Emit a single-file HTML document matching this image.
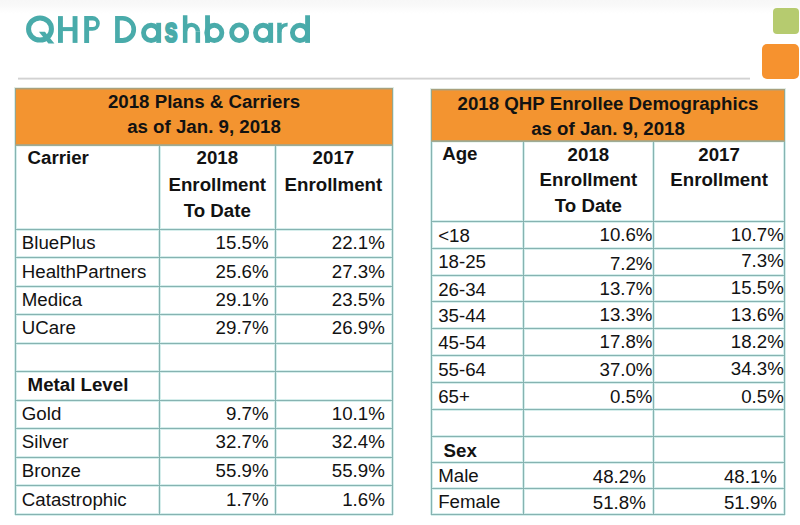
<!DOCTYPE html>
<html><head><meta charset="utf-8"><title>QHP Dashboard</title>
<style>
html,body{margin:0;padding:0;}
body{width:800px;height:525px;position:relative;overflow:hidden;background:#fff;font-family:"Liberation Sans",sans-serif;}
.t{position:absolute;white-space:nowrap;line-height:26px;font-size:18.7px;color:#121212;}
.l{position:absolute;}
.top{position:absolute;left:0;top:0;width:800px;height:14px;background:linear-gradient(#f7f7f7,#f9f9f9 40%,#fdfdfd 75%,#fff);}
.title{position:absolute;left:0;top:0;}
.rule{position:absolute;left:18px;top:78px;width:732px;height:1px;background:#d2d2d2;box-shadow:0 1px 0 #e6e6e6,0 -1px 0 #f0f0f0;}
.sq1{position:absolute;left:773px;top:8px;width:26px;height:26px;border-radius:4px;background:#b6cb6f;}
.sq2{position:absolute;left:762px;top:44px;width:37px;height:35px;border-radius:5px;background:#f6922f;}
</style></head>
<body>
<div class="top"></div>
<svg class="title" width="330" height="60" viewBox="0 0 330 60"><g font-family="Liberation Sans" font-weight="bold" font-size="100" fill="#49abaa" stroke="#49abaa" stroke-linejoin="round"><text transform="translate(164.62,42.15) scale(0.2375,0.3469)" stroke-width="6.32">s</text><ellipse cx="40" cy="29" rx="11.45" ry="11.1" fill="none" stroke-width="5"/><polygon points="38.9,31.8 44.9,31.8 54.4,43.6 48.4,43.6" stroke="none"/><ellipse cx="151.1" cy="32.85" rx="7.58" ry="7.63" fill="none" stroke-width="4.85"/><rect x="156.25" y="22.8" width="4.85" height="20.10" stroke="none"/><ellipse cx="263.1" cy="32.85" rx="7.58" ry="7.63" fill="none" stroke-width="4.85"/><rect x="268.25" y="22.8" width="4.85" height="20.10" stroke="none"/><ellipse cx="239.2" cy="32.75" rx="7.52" ry="7.83" fill="none" stroke-width="4.85"/><rect x="205.1" y="15.25" width="4.85" height="27.65" stroke="none"/><ellipse cx="214.3" cy="32.85" rx="7.58" ry="7.63" fill="none" stroke-width="4.85"/><ellipse cx="300.0" cy="32.85" rx="7.58" ry="7.63" fill="none" stroke-width="4.85"/><rect x="305.15" y="15.25" width="4.85" height="27.65" stroke="none"/><rect x="58" y="16.1" width="4.90" height="26.80" stroke="none"/><rect x="72.6" y="16.1" width="4.90" height="26.80" stroke="none"/><rect x="62" y="27.1" width="11.00" height="4.00" stroke="none"/><path fill-rule="evenodd" stroke="none" d="M84.2,16.1 H92.45 A7.35,7.35 0 0 1 92.45,30.8 H89.1 V42.9 H84.2 Z M89.1,20.4 H92.85 A3.25,3.25 0 0 1 92.85,26.9 H89.1 Z"/><path fill-rule="evenodd" stroke="none" d="M115.1,16.1 H122.7 A13.4,13.4 0 0 1 122.7,42.9 H115.1 Z M119.8,20.5 H122.7 A8.75,8.7 0 0 1 122.7,37.9 H119.8 Z"/><rect x="182.9" y="15.25" width="4.50" height="27.65" stroke="none"/><rect x="195.6" y="31.3" width="4.50" height="11.60" stroke="none"/><path stroke="none" d="M182.9,31.3 A8.6,8.6 0 0 1 200.1,31.3 L195.6,31.3 A4.1,4.3 0 0 0 187.4,31.3 Z"/><rect x="277.2" y="22.75" width="4.50" height="20.15" stroke="none"/><path fill="none" stroke-width="3.9" stroke-linecap="butt" d="M279.5,32 A7.6,7.6 0 0 1 287.6,24.6"/></g></svg>
<div class="rule"></div>
<div class="sq1"></div>
<div class="sq2"></div>
<div class="l" style="left:14px;top:146px;width:380px;height:1px;background:#eef7f2"></div>
<div class="l" style="left:15px;top:228px;width:378px;height:1px;background:#d6eeec"></div>
<div class="l" style="left:15px;top:230px;width:378px;height:1px;background:#d6eeec"></div>
<div class="l" style="left:15px;top:256px;width:378px;height:1px;background:#d6eeec"></div>
<div class="l" style="left:15px;top:258px;width:378px;height:1px;background:#d6eeec"></div>
<div class="l" style="left:15px;top:285px;width:378px;height:1px;background:#d6eeec"></div>
<div class="l" style="left:15px;top:287px;width:378px;height:1px;background:#d6eeec"></div>
<div class="l" style="left:15px;top:313px;width:378px;height:1px;background:#d6eeec"></div>
<div class="l" style="left:15px;top:315px;width:378px;height:1px;background:#d6eeec"></div>
<div class="l" style="left:15px;top:342px;width:378px;height:1px;background:#d6eeec"></div>
<div class="l" style="left:15px;top:344px;width:378px;height:1px;background:#d6eeec"></div>
<div class="l" style="left:15px;top:370px;width:378px;height:1px;background:#d6eeec"></div>
<div class="l" style="left:15px;top:372px;width:378px;height:1px;background:#d6eeec"></div>
<div class="l" style="left:15px;top:399px;width:378px;height:1px;background:#d6eeec"></div>
<div class="l" style="left:15px;top:401px;width:378px;height:1px;background:#d6eeec"></div>
<div class="l" style="left:15px;top:427px;width:378px;height:1px;background:#d6eeec"></div>
<div class="l" style="left:15px;top:429px;width:378px;height:1px;background:#d6eeec"></div>
<div class="l" style="left:15px;top:456px;width:378px;height:1px;background:#d6eeec"></div>
<div class="l" style="left:15px;top:458px;width:378px;height:1px;background:#d6eeec"></div>
<div class="l" style="left:15px;top:484px;width:378px;height:1px;background:#d6eeec"></div>
<div class="l" style="left:15px;top:486px;width:378px;height:1px;background:#d6eeec"></div>
<div class="l" style="left:158px;top:146px;width:1px;height:369px;background:#d6eeec"></div>
<div class="l" style="left:160px;top:146px;width:1px;height:369px;background:#d6eeec"></div>
<div class="l" style="left:274px;top:146px;width:1px;height:369px;background:#d6eeec"></div>
<div class="l" style="left:276px;top:146px;width:1px;height:369px;background:#d6eeec"></div>
<div class="l" style="left:14px;top:146px;width:1px;height:369px;background:#d6eeec"></div>
<div class="l" style="left:16px;top:146px;width:1px;height:369px;background:#d6eeec"></div>
<div class="l" style="left:391px;top:146px;width:1px;height:369px;background:#d6eeec"></div>
<div class="l" style="left:393px;top:146px;width:1px;height:369px;background:#d6eeec"></div>
<div class="l" style="left:15px;top:513px;width:378px;height:1px;background:#d6eeec"></div>
<div class="l" style="left:15px;top:515px;width:378px;height:1px;background:#d6eeec"></div>
<div class="l" style="left:430px;top:142px;width:356px;height:1px;background:#eef7f2"></div>
<div class="l" style="left:431px;top:220px;width:354px;height:1px;background:#d6eeec"></div>
<div class="l" style="left:431px;top:222px;width:354px;height:1px;background:#d6eeec"></div>
<div class="l" style="left:431px;top:247px;width:354px;height:1px;background:#d6eeec"></div>
<div class="l" style="left:431px;top:249px;width:354px;height:1px;background:#d6eeec"></div>
<div class="l" style="left:431px;top:274px;width:354px;height:1px;background:#d6eeec"></div>
<div class="l" style="left:431px;top:276px;width:354px;height:1px;background:#d6eeec"></div>
<div class="l" style="left:431px;top:300px;width:354px;height:1px;background:#d6eeec"></div>
<div class="l" style="left:431px;top:302px;width:354px;height:1px;background:#d6eeec"></div>
<div class="l" style="left:431px;top:327px;width:354px;height:1px;background:#d6eeec"></div>
<div class="l" style="left:431px;top:329px;width:354px;height:1px;background:#d6eeec"></div>
<div class="l" style="left:431px;top:354px;width:354px;height:1px;background:#d6eeec"></div>
<div class="l" style="left:431px;top:356px;width:354px;height:1px;background:#d6eeec"></div>
<div class="l" style="left:431px;top:381px;width:354px;height:1px;background:#d6eeec"></div>
<div class="l" style="left:431px;top:383px;width:354px;height:1px;background:#d6eeec"></div>
<div class="l" style="left:431px;top:408px;width:354px;height:1px;background:#d6eeec"></div>
<div class="l" style="left:431px;top:410px;width:354px;height:1px;background:#d6eeec"></div>
<div class="l" style="left:431px;top:435px;width:354px;height:1px;background:#d6eeec"></div>
<div class="l" style="left:431px;top:437px;width:354px;height:1px;background:#d6eeec"></div>
<div class="l" style="left:431px;top:461px;width:354px;height:1px;background:#d6eeec"></div>
<div class="l" style="left:431px;top:463px;width:354px;height:1px;background:#d6eeec"></div>
<div class="l" style="left:431px;top:487px;width:354px;height:1px;background:#d6eeec"></div>
<div class="l" style="left:431px;top:489px;width:354px;height:1px;background:#d6eeec"></div>
<div class="l" style="left:522px;top:142px;width:1px;height:373px;background:#d6eeec"></div>
<div class="l" style="left:524px;top:142px;width:1px;height:373px;background:#d6eeec"></div>
<div class="l" style="left:652px;top:142px;width:1px;height:373px;background:#d6eeec"></div>
<div class="l" style="left:654px;top:142px;width:1px;height:373px;background:#d6eeec"></div>
<div class="l" style="left:430px;top:142px;width:1px;height:373px;background:#d6eeec"></div>
<div class="l" style="left:432px;top:142px;width:1px;height:373px;background:#d6eeec"></div>
<div class="l" style="left:783px;top:142px;width:1px;height:373px;background:#d6eeec"></div>
<div class="l" style="left:785px;top:142px;width:1px;height:373px;background:#d6eeec"></div>
<div class="l" style="left:431px;top:513px;width:354px;height:1px;background:#d6eeec"></div>
<div class="l" style="left:431px;top:515px;width:354px;height:1px;background:#d6eeec"></div>
<div class="l" style="left:15px;top:229px;width:378px;height:1px;background:#86b3b1"></div>
<div class="l" style="left:15px;top:257px;width:378px;height:1px;background:#86b3b1"></div>
<div class="l" style="left:15px;top:286px;width:378px;height:1px;background:#86b3b1"></div>
<div class="l" style="left:15px;top:314px;width:378px;height:1px;background:#86b3b1"></div>
<div class="l" style="left:15px;top:343px;width:378px;height:1px;background:#86b3b1"></div>
<div class="l" style="left:15px;top:371px;width:378px;height:1px;background:#86b3b1"></div>
<div class="l" style="left:15px;top:400px;width:378px;height:1px;background:#86b3b1"></div>
<div class="l" style="left:15px;top:428px;width:378px;height:1px;background:#86b3b1"></div>
<div class="l" style="left:15px;top:457px;width:378px;height:1px;background:#86b3b1"></div>
<div class="l" style="left:15px;top:485px;width:378px;height:1px;background:#86b3b1"></div>
<div class="l" style="left:159px;top:146px;width:1px;height:369px;background:#86b3b1"></div>
<div class="l" style="left:275px;top:146px;width:1px;height:369px;background:#86b3b1"></div>
<div class="l" style="left:15px;top:146px;width:1px;height:369px;background:#86b3b1"></div>
<div class="l" style="left:392px;top:146px;width:1px;height:369px;background:#86b3b1"></div>
<div class="l" style="left:15px;top:514px;width:378px;height:1px;background:#86b3b1"></div>
<div class="l" style="left:431px;top:221px;width:354px;height:1px;background:#86b3b1"></div>
<div class="l" style="left:431px;top:248px;width:354px;height:1px;background:#86b3b1"></div>
<div class="l" style="left:431px;top:275px;width:354px;height:1px;background:#86b3b1"></div>
<div class="l" style="left:431px;top:301px;width:354px;height:1px;background:#86b3b1"></div>
<div class="l" style="left:431px;top:328px;width:354px;height:1px;background:#86b3b1"></div>
<div class="l" style="left:431px;top:355px;width:354px;height:1px;background:#86b3b1"></div>
<div class="l" style="left:431px;top:382px;width:354px;height:1px;background:#86b3b1"></div>
<div class="l" style="left:431px;top:409px;width:354px;height:1px;background:#86b3b1"></div>
<div class="l" style="left:431px;top:436px;width:354px;height:1px;background:#86b3b1"></div>
<div class="l" style="left:431px;top:462px;width:354px;height:1px;background:#86b3b1"></div>
<div class="l" style="left:431px;top:488px;width:354px;height:1px;background:#86b3b1"></div>
<div class="l" style="left:523px;top:142px;width:1px;height:373px;background:#86b3b1"></div>
<div class="l" style="left:653px;top:142px;width:1px;height:373px;background:#86b3b1"></div>
<div class="l" style="left:431px;top:142px;width:1px;height:373px;background:#86b3b1"></div>
<div class="l" style="left:784px;top:142px;width:1px;height:373px;background:#86b3b1"></div>
<div class="l" style="left:431px;top:514px;width:354px;height:1px;background:#86b3b1"></div>
<div class="l" style="left:16px;top:89px;width:376px;height:55px;background:#f39430"></div>
<div class="l" style="left:14px;top:87px;width:380px;height:1px;background:#e4ebe3"></div>
<div class="l" style="left:15px;top:88px;width:378px;height:1px;background:#a9a07c"></div>
<div class="l" style="left:16px;top:89px;width:376px;height:1px;background:#d39a55"></div>
<div class="l" style="left:15px;top:88px;width:1px;height:58px;background:#9aa48a"></div>
<div class="l" style="left:392px;top:88px;width:1px;height:58px;background:#9aa48a"></div>
<div class="l" style="left:14px;top:88px;width:1px;height:58px;background:#d6eeec"></div>
<div class="l" style="left:393px;top:88px;width:1px;height:58px;background:#d6eeec"></div>
<div class="l" style="left:15px;top:144px;width:378px;height:1px;background:#b3a379"></div>
<div class="l" style="left:15px;top:145px;width:378px;height:1px;background:#9fab95"></div>
<div class="t" style="left:4.0px;width:400px;text-align:center;top:89px;font-weight:bold;">2018 Plans &amp; Carriers</div>
<div class="t" style="left:4.0px;width:400px;text-align:center;top:114px;font-weight:bold;">as of Jan. 9, 2018</div>
<div class="t" style="left:27.6px;top:145px;font-weight:bold;">Carrier</div>
<div class="t" style="left:17.30000000000001px;width:400px;text-align:center;top:145px;font-weight:bold;">2018</div>
<div class="t" style="left:17.30000000000001px;width:400px;text-align:center;top:172px;font-weight:bold;">Enrollment</div>
<div class="t" style="left:17.30000000000001px;width:400px;text-align:center;top:198px;font-weight:bold;">To Date</div>
<div class="t" style="left:133.39999999999998px;width:400px;text-align:center;top:145px;font-weight:bold;">2017</div>
<div class="t" style="left:133.39999999999998px;width:400px;text-align:center;top:172px;font-weight:bold;">Enrollment</div>
<div class="t" style="left:21.8px;top:230px;">BluePlus</div>
<div class="t" style="right:531.4px;text-align:right;top:230px;">15.5%</div>
<div class="t" style="right:415.2px;text-align:right;top:230px;">22.1%</div>
<div class="t" style="left:21.8px;top:259px;">HealthPartners</div>
<div class="t" style="right:531.4px;text-align:right;top:259px;">25.6%</div>
<div class="t" style="right:415.2px;text-align:right;top:259px;">27.3%</div>
<div class="t" style="left:21.8px;top:287px;">Medica</div>
<div class="t" style="right:531.4px;text-align:right;top:287px;">29.1%</div>
<div class="t" style="right:415.2px;text-align:right;top:287px;">23.5%</div>
<div class="t" style="left:21.8px;top:315px;">UCare</div>
<div class="t" style="right:531.4px;text-align:right;top:315px;">29.7%</div>
<div class="t" style="right:415.2px;text-align:right;top:315px;">26.9%</div>
<div class="t" style="left:27.6px;top:372px;font-weight:bold;">Metal Level</div>
<div class="t" style="left:21.8px;top:401px;">Gold</div>
<div class="t" style="right:531.4px;text-align:right;top:401px;">9.7%</div>
<div class="t" style="right:415.2px;text-align:right;top:401px;">10.1%</div>
<div class="t" style="left:21.8px;top:429px;">Silver</div>
<div class="t" style="right:531.4px;text-align:right;top:429px;">32.7%</div>
<div class="t" style="right:415.2px;text-align:right;top:429px;">32.4%</div>
<div class="t" style="left:21.8px;top:458px;">Bronze</div>
<div class="t" style="right:531.4px;text-align:right;top:458px;">55.9%</div>
<div class="t" style="right:415.2px;text-align:right;top:458px;">55.9%</div>
<div class="t" style="left:21.8px;top:487px;">Catastrophic</div>
<div class="t" style="right:531.4px;text-align:right;top:487px;">1.7%</div>
<div class="t" style="right:415.2px;text-align:right;top:487px;">1.6%</div>
<div class="l" style="left:432px;top:90px;width:352px;height:50px;background:#f39430"></div>
<div class="l" style="left:430px;top:88px;width:356px;height:1px;background:#e4ebe3"></div>
<div class="l" style="left:431px;top:89px;width:354px;height:1px;background:#a9a07c"></div>
<div class="l" style="left:432px;top:90px;width:352px;height:1px;background:#d39a55"></div>
<div class="l" style="left:431px;top:89px;width:1px;height:53px;background:#9aa48a"></div>
<div class="l" style="left:784px;top:89px;width:1px;height:53px;background:#9aa48a"></div>
<div class="l" style="left:430px;top:89px;width:1px;height:53px;background:#d6eeec"></div>
<div class="l" style="left:785px;top:89px;width:1px;height:53px;background:#d6eeec"></div>
<div class="l" style="left:431px;top:140px;width:354px;height:1px;background:#b3a379"></div>
<div class="l" style="left:431px;top:141px;width:354px;height:1px;background:#9fab95"></div>
<div class="t" style="left:408.0px;width:400px;text-align:center;top:91px;font-weight:bold;">2018 QHP Enrollee Demographics</div>
<div class="t" style="left:408.0px;width:400px;text-align:center;top:116px;font-weight:bold;">as of Jan. 9, 2018</div>
<div class="t" style="left:442.2px;top:141px;font-weight:bold;">Age</div>
<div class="t" style="left:388.4px;width:400px;text-align:center;top:142px;font-weight:bold;">2018</div>
<div class="t" style="left:388.4px;width:400px;text-align:center;top:167px;font-weight:bold;">Enrollment</div>
<div class="t" style="left:388.4px;width:400px;text-align:center;top:193px;font-weight:bold;">To Date</div>
<div class="t" style="left:519.1px;width:400px;text-align:center;top:142px;font-weight:bold;">2017</div>
<div class="t" style="left:519.1px;width:400px;text-align:center;top:167px;font-weight:bold;">Enrollment</div>
<div class="t" style="left:438.2px;top:223px;">&lt;18</div>
<div class="t" style="right:147.5px;text-align:right;top:222px;">10.6%</div>
<div class="t" style="right:16.200000000000045px;text-align:right;top:222px;">10.7%</div>
<div class="t" style="left:438.2px;top:249px;">18-25</div>
<div class="t" style="right:147.5px;text-align:right;top:251px;">7.2%</div>
<div class="t" style="right:16.200000000000045px;text-align:right;top:248px;">7.3%</div>
<div class="t" style="left:438.2px;top:277px;">26-34</div>
<div class="t" style="right:147.5px;text-align:right;top:276px;">13.7%</div>
<div class="t" style="right:16.200000000000045px;text-align:right;top:275px;">15.5%</div>
<div class="t" style="left:438.2px;top:303px;">35-44</div>
<div class="t" style="right:147.5px;text-align:right;top:302px;">13.3%</div>
<div class="t" style="right:16.200000000000045px;text-align:right;top:302px;">13.6%</div>
<div class="t" style="left:438.2px;top:330px;">45-54</div>
<div class="t" style="right:147.5px;text-align:right;top:329px;">17.8%</div>
<div class="t" style="right:16.200000000000045px;text-align:right;top:329px;">18.2%</div>
<div class="t" style="left:438.2px;top:357px;">55-64</div>
<div class="t" style="right:147.5px;text-align:right;top:357px;">37.0%</div>
<div class="t" style="right:16.200000000000045px;text-align:right;top:356px;">34.3%</div>
<div class="t" style="left:438.2px;top:384px;">65+</div>
<div class="t" style="right:147.5px;text-align:right;top:384px;">0.5%</div>
<div class="t" style="right:16.200000000000045px;text-align:right;top:384px;">0.5%</div>
<div class="t" style="left:443.6px;top:438px;font-weight:bold;">Sex</div>
<div class="t" style="left:438.2px;top:463px;">Male</div>
<div class="t" style="right:154.20000000000005px;text-align:right;top:464px;">48.2%</div>
<div class="t" style="right:23.100000000000023px;text-align:right;top:464px;">48.1%</div>
<div class="t" style="left:438.2px;top:489px;">Female</div>
<div class="t" style="right:154.20000000000005px;text-align:right;top:490px;">51.8%</div>
<div class="t" style="right:23.100000000000023px;text-align:right;top:490px;">51.9%</div>
</body></html>
